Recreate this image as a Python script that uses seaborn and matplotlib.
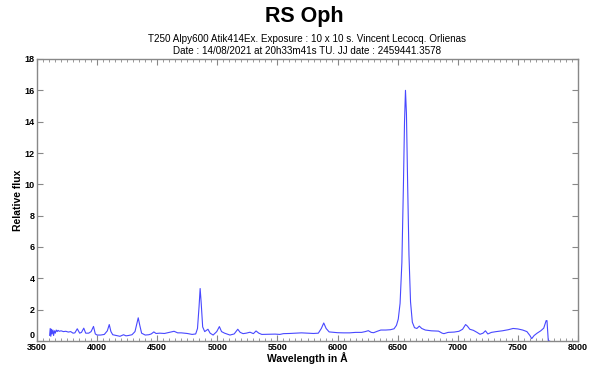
import matplotlib
matplotlib.use("Agg")
import matplotlib.pyplot as plt
import matplotlib.transforms as mtransforms
import seaborn as sns
import pandas as pd
from matplotlib.ticker import MultipleLocator, FuncFormatter

wavelength = [3605, 3610, 3615, 3620, 3625, 3632, 3638, 3645, 3652, 3660, 3668, 3675, 3685,
              3700, 3720, 3740, 3760, 3780, 3800, 3815, 3835, 3855, 3870, 3889, 3905, 3930,
              3950, 3970, 3985, 4000, 4030, 4060, 4085, 4101, 4115, 4130, 4160, 4190, 4220,
              4240, 4260, 4290, 4315, 4330, 4342, 4355, 4370, 4400, 4430, 4450, 4472, 4490,
              4520, 4560, 4600, 4640, 4670, 4700, 4750, 4790, 4820, 4835, 4848, 4857, 4866,
              4878, 4895, 4922, 4940, 4965, 4995, 5017, 5035, 5060, 5105, 5140, 5170, 5190,
              5214, 5240, 5272, 5300, 5322, 5345, 5370, 5420, 5480, 5520, 5550, 5600, 5650,
              5700, 5750, 5800, 5840, 5865, 5885, 5905, 5930, 5970, 6000, 6050, 6100, 6150,
              6200, 6230, 6256, 6280, 6300, 6330, 6360, 6400, 6440, 6470, 6490, 6505, 6520,
              6535, 6548, 6557, 6565, 6573, 6583, 6594, 6607, 6622, 6640, 6660, 6680, 6700,
              6730, 6780, 6840, 6870, 6885, 6920, 6970, 7010, 7040, 7065, 7080, 7100, 7130,
              7160, 7185, 7210, 7230, 7250, 7280, 7320, 7370, 7420, 7460, 7500, 7540, 7575,
              7600, 7615, 7635, 7660, 7690, 7715, 7735, 7742, 7750, 7753, 7765]
flux = [0.35, 0.8, 0.3, 0.75, 0.45, 0.7, 0.35, 0.65, 0.5, 0.7, 0.6, 0.68, 0.62,
        0.65, 0.6, 0.62, 0.57, 0.6, 0.5, 0.52, 0.78, 0.5, 0.55, 0.82, 0.5, 0.5,
        0.6, 0.93, 0.45, 0.38, 0.38, 0.42, 0.65, 1.05, 0.6, 0.4, 0.35, 0.3, 0.4,
        0.33, 0.35, 0.4, 0.6, 1.1, 1.48, 1.0, 0.5, 0.38, 0.4, 0.45, 0.58, 0.48,
        0.5, 0.48, 0.55, 0.62, 0.52, 0.52, 0.48, 0.42, 0.45, 0.8, 2.2, 3.35, 2.4,
        0.9, 0.6, 0.75, 0.5, 0.38, 0.6, 0.92, 0.6, 0.5, 0.38, 0.45, 0.75, 0.55,
        0.47, 0.5, 0.56, 0.47, 0.64, 0.5, 0.42, 0.43, 0.44, 0.42, 0.47, 0.48, 0.5,
        0.52, 0.5, 0.48, 0.5, 0.8, 1.15, 0.8, 0.58, 0.55, 0.53, 0.52, 0.52, 0.55,
        0.55, 0.6, 0.66, 0.55, 0.53, 0.62, 0.7, 0.7, 0.72, 0.78, 1.0, 1.4, 2.4,
        5.0, 10.0, 14.0, 16.0, 14.5, 10.0, 5.5, 2.5, 1.2, 0.85, 0.8, 0.95, 0.8,
        0.7, 0.65, 0.63, 0.5, 0.47, 0.55, 0.57, 0.62, 0.75, 1.05, 0.95, 0.75, 0.68,
        0.55, 0.43, 0.5, 0.65, 0.45, 0.55, 0.6, 0.65, 0.72, 0.8, 0.77, 0.7, 0.6,
        0.35, 0.15, 0.35, 0.5, 0.65, 0.82, 1.3, 1.3, 0.3, 0.0, 0.0]

df = pd.DataFrame({"wavelength": wavelength, "flux": flux})

sns.set_style("ticks")
plt.rcParams['font.family'] = ['Liberation Sans', 'DejaVu Sans']
plt.rcParams['text.color'] = 'black'
plt.rcParams['axes.labelcolor'] = 'black'

fig = plt.figure(figsize=(6, 3.65), dpi=100)
ax = fig.add_axes([37/600, 1-341/365, (578-37)/600, (341-59)/365])
sns.lineplot(data=df, x="wavelength", y="flux", ax=ax, color="#4848ff", linewidth=0.8,
             estimator=None, sort=False)

ax.set_xlim(3500, 8000)
ax.set_ylim(0, 18)
ax.xaxis.set_major_locator(MultipleLocator(500))
ax.xaxis.set_minor_locator(MultipleLocator(50))
ax.yaxis.set_major_locator(MultipleLocator(2))
# the "0" label of the y axis is drawn separately just above the axis corner
ax.yaxis.set_major_formatter(FuncFormatter(lambda v, p: "" if v == 0 else f"{v:g}"))
ax.tick_params(axis='both', which='both', direction='in', top=True, right=True,
               colors='#888888', labelcolor='black', labelsize=6.5, pad=1.5)
ax.tick_params(which='major', length=4, width=0.8)
ax.tick_params(which='minor', length=2, width=0.6)
for lbl in ax.get_xticklabels() + ax.get_yticklabels():
    lbl.set_fontweight('bold')
trans0 = ax.get_yaxis_transform() + mtransforms.ScaledTranslation(-2.2/100, 0.5/100, fig.dpi_scale_trans)
ax.text(0, 0, "0", transform=trans0, ha='right', va='bottom', fontsize=6.5,
        fontweight='bold', color='black')
for s in ax.spines.values():
    s.set_color('#888888')
    s.set_linewidth(1.0)

ax.set_xlabel("Wavelength in Å", fontsize=7.5, fontweight='bold', labelpad=0)
ax.set_ylabel("Relative flux", fontsize=7.5, fontweight='bold', labelpad=1)

fig.text(0.507, 1-22/365, "RS Oph", ha='center', va='baseline', fontsize=15.5,
         fontweight='bold')
fig.text(0.512, 1-39/365, "T250 Alpy600 Atik414Ex. Exposure : 10 x 10 s. Vincent Lecocq. Orlienas",
         ha='center', va='center', fontsize=7.1)
fig.text(0.512, 1-51/365, "Date : 14/08/2021 at 20h33m41s TU. JJ date : 2459441.3578",
         ha='center', va='center', fontsize=7.1)

fig.savefig("out.png", dpi=100)
